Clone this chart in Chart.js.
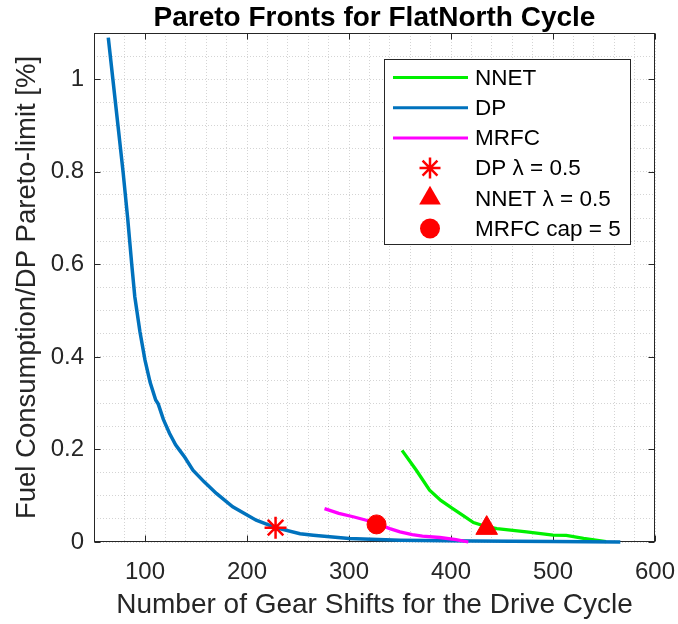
<!DOCTYPE html>
<html><head><meta charset="utf-8">
<script src="https://cdn.jsdelivr.net/npm/chart.js@4"></script>
<style>html,body{margin:0;padding:0;background:#fff}canvas{display:block}</style>
</head><body>
<canvas id="c" width="678" height="624"></canvas>
<script>
// ---- data ----
const dpX   = [64,68.5,73.5,78.5,83,87,90,95,100,105,110.5,113,118,124,130,134,139,147,158,170,186,209,228,252,265,300,350,420,500,566];
const dpY   = [1.09,1.0,0.9,0.8,0.7,0.6,0.53,0.455,0.393,0.345,0.307,0.298,0.265,0.235,0.21,0.198,0.183,0.155,0.13,0.105,0.076,0.047,0.031,0.018,0.0147,0.0075,0.004,0.002,0.001,0];
const mrfcX = [276,290,305,317,327,340,350,362,372,389,405,417];
const mrfcY = [0.072,0.062,0.054,0.047,0.040,0.029,0.022,0.016,0.0125,0.0097,0.005,0];
const nnetX = [352,366,379,390,401,412,422,435,445,474,500,513,530,552];
const nnetY = [0.198,0.155,0.112,0.09,0.073,0.057,0.042,0.033,0.029,0.022,0.015,0.0145,0.008,0.001];
const dpStar   = {x: 228, y: 0.031};
const nnetTri  = {x: 435, y: 0.030};
const mrfcDot  = {x: 327, y: 0.038};
const xTickLabels = [100,200,300,400,500,600];
const yTickLabels = ['0','0.2','0.4','0.6','0.8','1'];
const seriesLabels = ['NNET','DP','MRFC','DP \u03bb = 0.5','NNET \u03bb = 0.5','MRFC cap = 5'];

const pts = (xs, ys) => xs.map((v, i) => ({x: v, y: ys[i]}));
const FONT = "'Liberation Sans', Arial, Helvetica, sans-serif";
const AXIS = '#262626';
const GREEN = '#00f000', BLUE = '#0072BD', MAG = '#ff00ff', RED = '#ff0000';

const framePlugin = {
  id: 'frame',
  beforeDatasetsDraw(chart) {
    const {ctx, chartArea: a, scales: {x, y}} = chart;
    const L = Math.round(a.left) + 0.5, R = Math.round(a.right) - 0.5;
    const T = Math.round(a.top) + 0.5, B = Math.round(a.bottom) - 0.5;
    ctx.save();
    ctx.strokeStyle = AXIS; ctx.lineWidth = 1;
    ctx.strokeRect(L, T, R - L, B - T);
    ctx.beginPath();
    xTickLabels.forEach(v => {
      const p = Math.round(x.getPixelForValue(v)) + 0.5;
      ctx.moveTo(p, B); ctx.lineTo(p, B - 6);
      ctx.moveTo(p, T); ctx.lineTo(p, T + 6);
    });
    yTickLabels.forEach(s => {
      const p = Math.round(y.getPixelForValue(parseFloat(s))) + 0.5;
      ctx.moveTo(L, p); ctx.lineTo(L + 6, p);
      ctx.moveTo(R, p); ctx.lineTo(R - 6, p);
    });
    ctx.stroke();
    ctx.restore();
  }
};

function drawMarker(ctx, style, cx, cy, r) {
  ctx.save();
  ctx.fillStyle = RED; ctx.strokeStyle = RED; ctx.lineWidth = 2.5;
  ctx.beginPath();
  if (style === 'star') {
    ctx.moveTo(cx - r, cy); ctx.lineTo(cx + r, cy);
    ctx.moveTo(cx, cy - r); ctx.lineTo(cx, cy + r);
    const d = r * Math.SQRT1_2;
    ctx.moveTo(cx - d, cy - d); ctx.lineTo(cx + d, cy + d);
    ctx.moveTo(cx - d, cy + d); ctx.lineTo(cx + d, cy - d);
    ctx.stroke();
  } else if (style === 'triangle') {
    ctx.moveTo(cx, cy - r);
    ctx.lineTo(cx + r * Math.sin(2 * Math.PI / 3), cy - r * Math.cos(2 * Math.PI / 3));
    ctx.lineTo(cx + r * Math.sin(4 * Math.PI / 3), cy - r * Math.cos(4 * Math.PI / 3));
    ctx.closePath(); ctx.fill();
  } else {
    ctx.arc(cx, cy, r, 0, Math.PI * 2); ctx.fill();
  }
  ctx.restore();
}

const legendPlugin = {
  id: 'boxLegend',
  afterDatasetsDraw(chart) {
    const {ctx} = chart;
    const bx = 384.5, by = 59.5, bw = 246, bh = 185;
    ctx.save();
    ctx.fillStyle = '#fff'; ctx.fillRect(bx, by, bw, bh);
    ctx.strokeStyle = AXIS; ctx.lineWidth = 1; ctx.strokeRect(bx, by, bw, bh);
    ctx.font = '22.5px ' + FONT; ctx.textBaseline = 'middle'; ctx.textAlign = 'left'; ctx.fillStyle = '#000';
    chart.data.datasets.forEach((ds, i) => {
      const yy = 77.5 + i * 30.2;
      if (ds.showLine) {
        ctx.save(); ctx.strokeStyle = ds.borderColor; ctx.lineWidth = 3;
        ctx.beginPath(); ctx.moveTo(393, yy); ctx.lineTo(468, yy); ctx.stroke(); ctx.restore();
      } else {
        drawMarker(ctx, ds.pointStyle, 430, yy, ds.legendR);
      }
      ctx.fillStyle = '#000';
      ctx.fillText(ds.label, 475, yy + 1);
    });
    ctx.restore();
  }
};

new Chart(document.getElementById('c'), {
  type: 'scatter',
  data: {
    datasets: [
      {label: seriesLabels[0], data: pts(nnetX, nnetY), showLine: true, borderColor: GREEN, borderWidth: 3.3, pointRadius: 0, order: 6, clip: false},
      {label: seriesLabels[1], data: pts(dpX, dpY), showLine: true, borderColor: BLUE, borderWidth: 3.5, pointRadius: 0, order: 5, clip: false},
      {label: seriesLabels[2], data: pts(mrfcX, mrfcY), showLine: true, borderColor: MAG, borderWidth: 3.3, pointRadius: 0, order: 4, clip: false},
      {label: seriesLabels[3], data: [dpStar], showLine: false, pointStyle: 'star', pointRadius: 11, borderColor: RED, backgroundColor: RED, borderWidth: 2.5, order: 3, legendR: 10.5, clip: false},
      {label: seriesLabels[4], data: [nnetTri], showLine: false, pointStyle: 'triangle', pointRadius: 12.5, borderColor: RED, backgroundColor: RED, borderWidth: 1, order: 2, legendR: 12.5, clip: false},
      {label: seriesLabels[5], data: [mrfcDot], showLine: false, pointStyle: 'circle', pointRadius: 9.5, borderColor: RED, backgroundColor: RED, borderWidth: 1, order: 1, legendR: 10, clip: false}
    ]
  },
  options: {
    responsive: false,
    animation: false,
    devicePixelRatio: 1,
    layout: {padding: {left: 0, right: 23, top: 0, bottom: 0}},
    elements: {line: {tension: 0}},
    plugins: {
      legend: {display: false},
      tooltip: {enabled: false},
      title: {
        display: true, fullSize: false,
        text: 'Pareto Fronts for FlatNorth Cycle',
        color: '#000',
        font: {family: FONT, size: 28, weight: 'bold', lineHeight: 1},
        padding: {top: 4, bottom: 1}
      }
    },
    scales: {
      x: {
        type: 'linear', min: 50, max: 600,
        afterFit: s => { s.height = 82; s.paddingLeft = 0; s.paddingRight = 0; },
        ticks: {
          stepSize: 20, autoSkip: false, maxRotation: 0, padding: 18,
          color: AXIS, font: {family: FONT, size: 24, lineHeight: 1},
          callback: v => xTickLabels.includes(Math.round(v)) && Math.abs(v - Math.round(v)) < 1e-6 ? String(Math.round(v)) : ''
        },
        grid: {color: 'rgba(0,0,0,0.17)', lineWidth: 1, drawTicks: false},
        border: {display: false, dash: [1, 2]},
        title: {display: true, text: 'Number of Gear Shifts for the Drive Cycle', color: AXIS,
                font: {family: FONT, size: 28, lineHeight: 1}, padding: {top: 0, bottom: 5}}
      },
      y: {
        type: 'linear', min: 0, max: 1.1,
        afterFit: s => { s.width = 94; s.paddingTop = 0; s.paddingBottom = 0; },
        ticks: {
          stepSize: 0.05, autoSkip: false, padding: 10,
          color: AXIS, font: {family: FONT, size: 24, lineHeight: 1},
          callback: v => { const s = String(+v.toFixed(2)); return yTickLabels.includes(s) ? s : ''; }
        },
        grid: {color: 'rgba(0,0,0,0.17)', lineWidth: 1, drawTicks: false},
        border: {display: false, dash: [1, 2]},
        title: {display: true, text: 'Fuel Consumption/DP Pareto-limit [%]', color: AXIS,
                font: {family: FONT, size: 27.5, lineHeight: 1}, padding: {top: 14, bottom: 0}}
      }
    }
  },
  plugins: [framePlugin, legendPlugin]
});
</script>
</body></html>
